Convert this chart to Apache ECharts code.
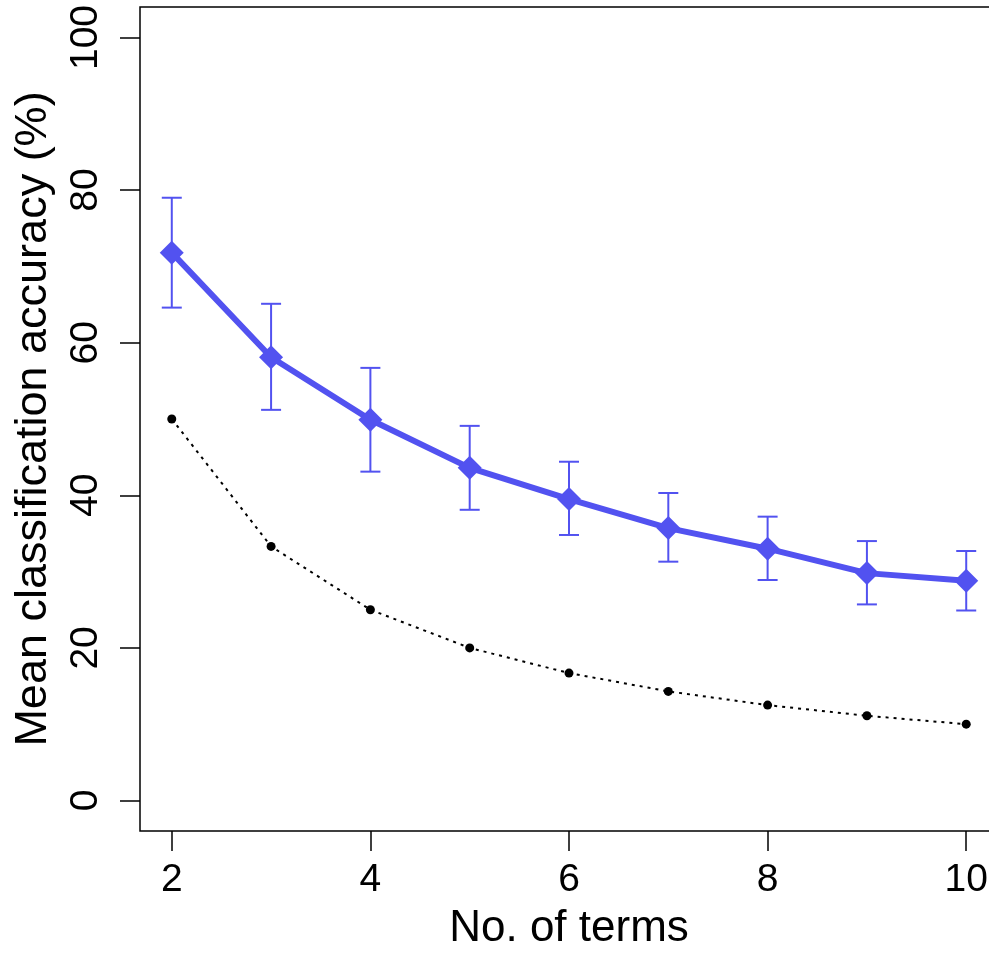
<!DOCTYPE html>
<html>
<head>
<meta charset="utf-8">
<script src="https://cdn.jsdelivr.net/npm/echarts@6/dist/echarts.min.js"></script>
<style>
  html, body { margin: 0; padding: 0; overflow: hidden; background: #fff; }
  #main { width: 1000px; height: 954px; }
</style>
</head>
<body>
<div id="main"></div>
<script>
// data
var terms = [2, 3, 4, 5, 6, 7, 8, 9, 10];
var accMean = [71.8, 58.1, 49.9, 43.6, 39.5, 35.7, 33.0, 29.8, 28.8];
var accUpper = [79.0, 65.1, 56.7, 49.1, 44.4, 40.3, 37.2, 34.0, 32.7];
var accLower = [64.6, 51.2, 43.1, 38.1, 34.8, 31.3, 28.9, 25.7, 24.9];
var chance = [50, 33.3, 25, 20, 16.7, 14.3, 12.5, 11.1, 10];
var xTicks = [2, 4, 6, 8, 10];
var yTicks = [0, 20, 40, 60, 80, 100];

var BLUE = '#5252F0';
var FONT = 'Liberation Sans, Arial, Helvetica, sans-serif';

var chart = echarts.init(document.getElementById('main'));

function pairs(ys) {
  return terms.map(function(x, i) {
    return [x, ys[i]];
  });
}

var errData = terms.map(function(x, i) {
  return [x, accLower[i], accUpper[i]];
});

var option = {
  animation: false,
  backgroundColor: '#fff',
  grid: {
    show: true,
    left: 140,
    right: 2,
    top: 7,
    bottom: 123,
    outerBoundsMode: 'none',
    containLabel: false,
    borderColor: '#000',
    borderWidth: 1.5,
    backgroundColor: 'transparent'
  },
  xAxis: {
    type: 'value',
    min: 1.68,
    max: 10.32,
    name: 'No. of terms',
    nameLocation: 'middle',
    nameGap: 76,
    nameTextStyle: { fontFamily: FONT, fontSize: 44, color: '#000' },
    axisLine: { show: false, onZero: false },
    splitLine: { show: false },
    axisTick: {
      show: true,
      length: 20,
      customValues: xTicks,
      lineStyle: { color: '#000', width: 1.5 }
    },
    axisLabel: {
      customValues: xTicks,
      margin: 30,
      fontFamily: FONT,
      fontSize: 39,
      color: '#000'
    }
  },
  yAxis: {
    type: 'value',
    min: -4,
    max: 104,
    name: 'Mean classification accuracy (%)',
    nameLocation: 'middle',
    nameGap: 84,
    nameTextStyle: { fontFamily: FONT, fontSize: 45, color: '#000' },
    axisLine: { show: false, onZero: false },
    splitLine: { show: false },
    axisTick: {
      show: true,
      length: 20,
      customValues: yTicks,
      lineStyle: { color: '#000', width: 1.5 }
    },
    axisLabel: {
      customValues: yTicks,
      rotate: 90,
      margin: 34,
      fontFamily: FONT,
      fontSize: 39,
      color: '#000'
    }
  },
  series: [
    {
      type: 'line',
      name: 'chance',
      data: pairs(chance),
      symbol: 'circle',
      symbolSize: 9,
      itemStyle: { color: '#000' },
      lineStyle: { color: '#000', width: 2, type: [3, 5] },
      z: 2
    },
    {
      type: 'custom',
      name: 'errors',
      data: errData,
      encode: { x: 0, y: [1, 2] },
      renderItem: function(params, api) {
        var x = api.value(0);
        var lo = api.coord([x, api.value(1)]);
        var hi = api.coord([x, api.value(2)]);
        var half = 10;
        var style = { stroke: BLUE, lineWidth: 2 };
        return {
          type: 'group',
          children: [
            { type: 'line', shape: { x1: lo[0], y1: lo[1], x2: hi[0], y2: hi[1] }, style: style },
            { type: 'line', shape: { x1: lo[0] - half, y1: lo[1], x2: lo[0] + half, y2: lo[1] }, style: style },
            { type: 'line', shape: { x1: hi[0] - half, y1: hi[1], x2: hi[0] + half, y2: hi[1] }, style: style }
          ]
        };
      },
      z: 3
    },
    {
      type: 'line',
      name: 'accuracy',
      data: pairs(accMean),
      symbol: 'diamond',
      symbolSize: [24, 24],
      itemStyle: { color: BLUE },
      lineStyle: { color: BLUE, width: 6 },
      z: 4
    }
  ]
};

chart.setOption(option);
</script>
</body>
</html>
